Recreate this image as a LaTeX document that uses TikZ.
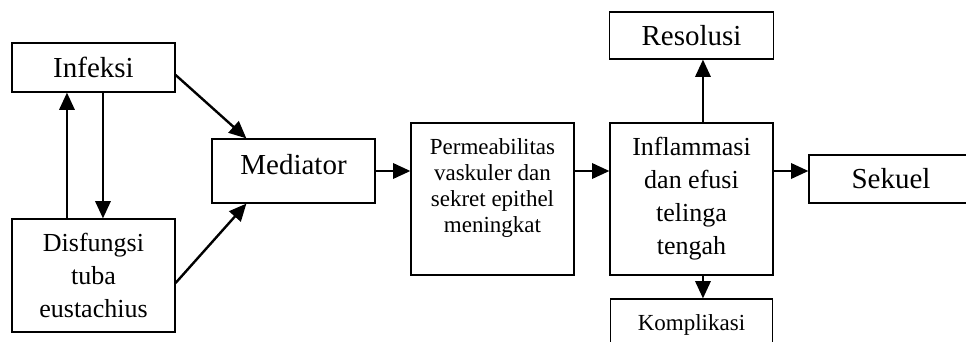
\documentclass[tikz,border=0pt]{standalone}
\usepackage{fontspec}
\setmainfont{Liberation Serif}
\usetikzlibrary{arrows.meta}

\begin{document}
\begin{tikzpicture}[x=0.75pt,y=-0.75pt,
    box/.style={draw,line width=0.9pt,inner sep=0pt,align=center,minimum width=122.25pt},
    big/.style={font=\fontsize{21.75pt}{25pt}\selectfont},
    mid/.style={font=\fontsize{19.5pt}{24.75pt}\selectfont},
    small/.style={font=\fontsize{17.25pt}{19.3pt}\selectfont},
    arr/.style={-{Triangle[length=13pt,width=11.5pt]},line width=1.8pt}]
      \clip (0,0) rectangle (966,342);
      \node[box,big,minimum height=36.75pt] (infeksi) at (93.5,67.5) {Infeksi};
      \node[box,mid,minimum height=84.75pt] (disfungsi) at (93.5,275.5) {Disfungsi\\tuba\\eustachius};
      \node[box,big,minimum height=48pt] (mediator) at (293.5,171) {};
      \node[big] (medtext) at (293.5,165) {Mediator};
      \node[box,minimum height=114pt] (perm) at (492.5,199) {};
      \node[small,align=center] (permtext) at (492.5,188) {Permeabilitas\\vaskuler dan\\sekret epithel\\meningkat};
      \node[box,mid,minimum height=114pt] (inflam) at (691.5,199) {Inflammasi\\dan efusi\\telinga\\tengah};
      \node[box,big,minimum width=123pt,minimum height=35.25pt] (resolusi) at (691.5,35.5) {Resolusi};
      \node[box,small,minimum width=121.5pt,minimum height=39pt] (komplikasi) at (691.5,325) {Komplikasi};
      \node[box,big,minimum width=123pt,minimum height=36pt] (sekuel) at (891,179) {Sekuel};
      \draw[arr] ([xshift=-19.9pt]disfungsi.north) -- ([xshift=-19.9pt]infeksi.south);
      \draw[arr] ([xshift=7.1pt]infeksi.south) -- ([xshift=7.1pt]disfungsi.north);
      \draw[arr] ([yshift=-5.6pt]infeksi.east) -- ([xshift=26.25pt]mediator.north west);
      \draw[arr] ([yshift=-5.6pt]disfungsi.east) -- ([xshift=26.25pt]mediator.south west);
      \draw[arr] (mediator.east) -- (mediator.east -| perm.west);
      \draw[arr] (perm.east |- mediator.east) -- (inflam.west |- mediator.east);
      \draw[arr] (inflam.east |- mediator.east) -- (sekuel.west |- mediator.east);
      \draw[arr] ([xshift=8.6pt]inflam.north) -- ([xshift=8.6pt]resolusi.south);
      \draw[arr] ([xshift=8.6pt]inflam.south) -- ([xshift=8.6pt]komplikasi.north);
    \end{tikzpicture}
\end{document}
